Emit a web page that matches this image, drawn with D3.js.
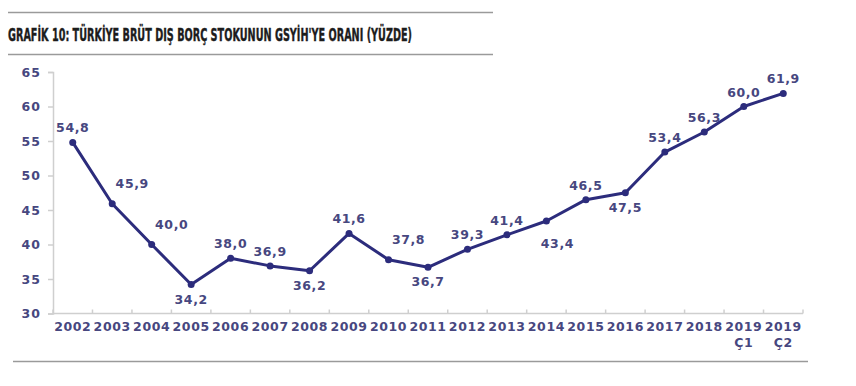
<!DOCTYPE html>
<html><head><meta charset="utf-8">
<script src="https://cdn.jsdelivr.net/npm/d3@7"></script>
<style>
html,body{margin:0;padding:0;background:#fff;}
svg{display:block;}
</style></head>
<body>
<svg id="chart" width="856" height="386"></svg>
<script>
const title = "GRAFİK 10: TÜRKİYE BRÜT DIŞ BORÇ STOKUNUN GSYİH'YE ORANI (YÜZDE)";
const categories = ["2002","2003","2004","2005","2006","2007","2008","2009","2010","2011","2012","2013","2014","2015","2016","2017","2018","2019\nÇ1","2019\nÇ2"];
const values = [54.8,45.9,40.0,34.2,38.0,36.9,36.2,41.6,37.8,36.7,39.3,41.4,43.4,46.5,47.5,53.4,56.3,60.0,61.9];
const labelPos = ["above","aboveRight","aboveRight","below","above","above","below","above","aboveRight","below","above","above","belowRight","above","below","above","above","above","above"];
const yTicks = [30,35,40,45,50,55,60,65];

const svg = d3.select("#chart");
const lineColor = "#2c2c7c", textColor = "#47477f", ruleColor = "#9a9a9a", axisColor = "#cfcfcf";
const font = "'DejaVu Sans', Verdana, sans-serif";

// rules
svg.append("line").attr("x1",8).attr("x2",493).attr("y1",12.5).attr("y2",12.5).attr("stroke",ruleColor).attr("stroke-width",1.5);
svg.append("line").attr("x1",8).attr("x2",493).attr("y1",54.5).attr("y2",54.5).attr("stroke",ruleColor).attr("stroke-width",1.5);
svg.append("line").attr("x1",13).attr("x2",808).attr("y1",361.5).attr("y2",361.5).attr("stroke",ruleColor).attr("stroke-width",1.5);

svg.append("text").attr("x",8).attr("y",41).text(title)
  .attr("font-family","'DejaVu Sans Condensed','Liberation Sans Narrow',sans-serif")
  .attr("font-weight","bold").attr("font-size",18).attr("fill","#1c1c1c")
  .attr("stroke","#1c1c1c").attr("stroke-width",0.4)
  .attr("textLength",404).attr("lengthAdjust","spacingAndGlyphs");

const x = d3.scaleBand().domain(categories).range([53,803]).paddingInner(0).paddingOuter(0);
const y = d3.scaleLinear().domain([30,65]).range([313.5,72]);
const cx = d => x(d) + x.bandwidth()/2;

// y axis
const yAxis = svg.append("g").attr("transform","translate(53,0)")
  .call(d3.axisLeft(y).tickValues(yTicks).tickSize(5).tickPadding(7));
yAxis.select(".domain").attr("stroke",axisColor).attr("stroke-width",1.5);
yAxis.selectAll(".tick line").attr("stroke",axisColor).attr("stroke-width",1.5);
yAxis.selectAll(".tick text").attr("fill",textColor).attr("font-family",font)
  .attr("font-weight","bold").attr("font-size",12.5).attr("letter-spacing",1);

// x axis
const xg = svg.append("g");
xg.append("line").attr("x1",53).attr("x2",803).attr("y1",y(30)).attr("y2",y(30))
  .attr("stroke",axisColor).attr("stroke-width",1.5);
const bounds = categories.map(c => x(c)).concat([x(categories[categories.length-1]) + x.bandwidth()]);
xg.selectAll("line.tk").data(bounds).join("line").attr("class","tk")
  .attr("x1",d=>d).attr("x2",d=>d).attr("y1",y(30)).attr("y2",y(30)-4)
  .attr("stroke",axisColor).attr("stroke-width",1.5);
const xt = xg.selectAll("text.xl").data(categories).join("text").attr("class","xl")
  .attr("x",d=>cx(d)).attr("y",331).attr("text-anchor","middle")
  .attr("fill",textColor).attr("font-family",font).attr("font-weight","bold")
  .attr("font-size",12.5).attr("letter-spacing",0.6);
xt.each(function(d){
  const parts = d.split("\n");
  const t = d3.select(this);
  parts.forEach((p,i)=>{
    t.append("tspan").attr("x",cx(d)).attr("dy", i===0?0:16).text(p);
  });
});

// line
const pts = categories.map((c,i)=>({c, v: values[i], pos: labelPos[i]}));
svg.append("path").datum(pts)
  .attr("d", d3.line().x(d=>cx(d.c)).y(d=>y(d.v)))
  .attr("fill","none").attr("stroke",lineColor).attr("stroke-width",3).attr("stroke-linejoin","round");
svg.selectAll("circle.pt").data(pts).join("circle").attr("class","pt")
  .attr("cx",d=>cx(d.c)).attr("cy",d=>y(d.v)).attr("r",3.5).attr("fill",lineColor);

// labels
const fmt = v => v.toFixed(1).replace(".",",");
const off = {above:[0,-10], aboveRight:[20,-16], below:[0,19], belowRight:[11,27]};
svg.selectAll("text.vl").data(pts).join("text").attr("class","vl")
  .attr("x",d=>cx(d.c)+off[d.pos][0]).attr("y",d=>y(d.v)+off[d.pos][1])
  .attr("text-anchor","middle").attr("fill",textColor).attr("font-family",font)
  .attr("font-weight","bold").attr("font-size",12.5).attr("letter-spacing",0.6)
  .text(d=>fmt(d.v));
</script>
</body></html>
